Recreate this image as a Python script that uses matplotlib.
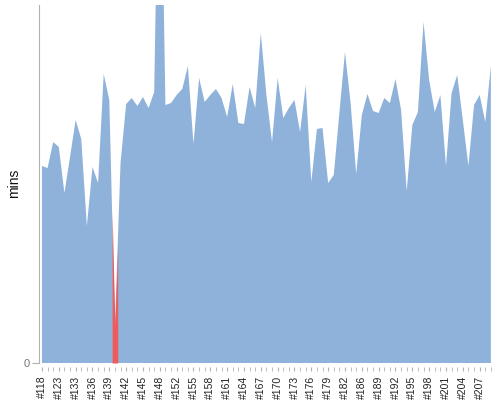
import matplotlib.pyplot as plt

plt.rcParams['font.family'] = ['Liberation Sans', 'DejaVu Sans']

# build durations in minutes, one per build
durations = [19.7, 19.5, 22.1, 21.6, 17.0, 20.6, 24.3, 22.4, 13.7, 19.6,
             18.0, 28.9, 26.3, 3.8, 20.0, 25.9, 26.5, 25.7, 26.6, 25.5,
             27.1, 60.0, 25.8, 26.0, 26.8, 27.4, 29.7, 21.9, 28.5, 26.1,
             26.8, 27.4, 26.5, 24.6, 27.9, 24.0, 23.9, 27.6, 25.5, 33.0,
             26.8, 22.1, 28.5, 24.5, 25.5, 26.3, 23.1, 27.8, 18.1, 23.4,
             23.5, 18.0, 18.8, 25.0, 31.1, 26.0, 18.9, 24.8, 26.9, 25.2,
             25.0, 26.5, 26.0, 28.4, 25.3, 17.2, 23.8, 25.1, 34.1, 28.3,
             25.1, 26.8, 19.7, 27.0, 28.8, 24.3, 19.7, 25.8, 26.8, 24.1,
             29.7]
failed_builds = [13]
tick_labels = ['#118', '#123', '#133', '#136', '#139', '#142', '#145', '#148',
               '#152', '#155', '#158', '#161', '#164', '#167', '#170', '#173',
               '#176', '#179', '#182', '#186', '#189', '#192', '#195', '#198',
               '#201', '#204', '#207']

BLUE = '#8fb2da'
RED = '#f05a5a'

fig = plt.figure(figsize=(5, 4), dpi=100)
ax = fig.add_axes([39 / 500, 37 / 400, 453 / 500, 358 / 400])

x = list(range(len(durations)))
ax.fill_between(x, 0, durations, color=BLUE, linewidth=0)

# failed builds: red band half a step either side
for i in failed_builds:
    xs = [i - 0.5, i, i + 0.5]
    ys = [(durations[i - 1] + durations[i]) / 2, durations[i],
          (durations[i] + durations[i + 1]) / 2]
    ax.fill_between(xs, 0, ys, color=RED, linewidth=0)

ax.set_xlim(-0.53, 80.2)
ax.set_ylim(0, 35.8)

for s in ['top', 'right']:
    ax.spines[s].set_visible(False)
ax.spines['left'].set_color('#b0b0b0')
ax.spines['bottom'].set_position(('outward', 3))
ax.spines['bottom'].set_visible(False)

ax.set_yticks([0])
ax.set_yticklabels(['0'])
ax.tick_params(axis='y', length=5, color='#b0b0b0', labelcolor='#777777',
               labelsize=8, pad=2)

ax.set_xticks(x, minor=True)
ax.set_xticks(range(0, len(durations), 3))
ax.set_xticklabels(tick_labels, rotation=90)
ax.tick_params(axis='x', which='both', length=3, color='#b0b0b0',
               labelsize=7.5, labelcolor='#222222', pad=3)

fig.text(14 / 500, 1 - 183 / 400, 'mins', rotation=90, fontsize=10,
         ha='center', va='center', color='#111111')

fig.savefig('out.png', dpi=100)
